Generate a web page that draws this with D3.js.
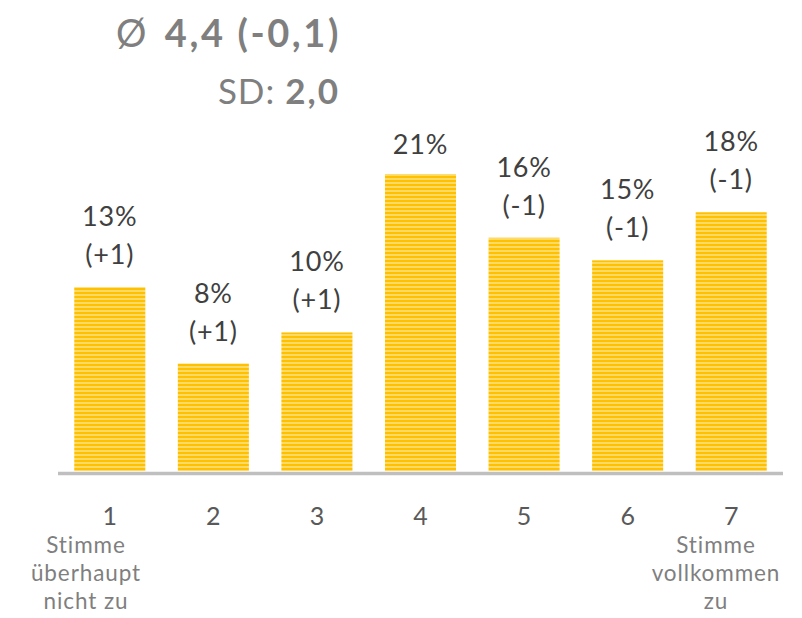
<!DOCTYPE html>
<html><head><meta charset="utf-8">
<script src="https://cdn.jsdelivr.net/npm/d3@7"></script>
<style>body{margin:0;background:#fff;}svg{display:block;font-family:Lato,"Open Sans",sans-serif;}</style>
</head><body>
<script>
const categories = ["1","2","3","4","5","6","7"];
const values = [13.0, 7.6, 9.8, 21.0, 16.5, 14.9, 18.3];
const valueLabels = ["13%","8%","10%","21%","16%","15%","18%"];
const changeLabels = ["(+1)","(+1)","(+1)","","(-1)","(-1)","(-1)"];
const leftNote = ["Stimme","überhaupt","nicht zu"];
const rightNote = ["Stimme","vollkommen","zu"];

const W=802,H=618;
const svg=d3.select("body").append("svg").attr("width",W).attr("height",H);
const defs=svg.append("defs");
const pat=defs.append("pattern").attr("id","stripes").attr("patternUnits","userSpaceOnUse").attr("width",8).attr("height",4);
pat.append("rect").attr("width",8).attr("height",4).attr("fill","#FFDA66");
pat.append("rect").attr("width",8).attr("height",2).attr("fill","#FFC000");

const x=d3.scaleBand().domain(categories).range([58,783]).paddingInner(0.314).paddingOuter(0.157);
const y=d3.scaleLinear().domain([0,25]).range([471,117.5]);

svg.append("g").selectAll("rect").data(values).join("rect")
  .attr("x",(d,i)=>x(categories[i])).attr("width",x.bandwidth())
  .attr("y",d=>y(d)).attr("height",d=>y(0)-y(d)).attr("fill","url(#stripes)");

svg.append("line").attr("x1",58).attr("x2",783).attr("y1",y(0)+2.5).attr("y2",y(0)+2.5)
  .attr("stroke","#BFBFBF").attr("stroke-width",3.5);

const lab=svg.append("g").attr("fill","#404040").attr("font-size",27).attr("text-anchor","middle").attr("letter-spacing",0.8);
values.forEach((v,i)=>{
  const cx=x(categories[i])+x.bandwidth()/2;
  const top=y(v);
  const hasChange=changeLabels[i]!=="";
  lab.append("text").attr("x",cx).attr("y",top-(hasChange?61:20)).text(valueLabels[i]);
  if(hasChange) lab.append("text").attr("x",cx).attr("y",top-23).text(changeLabels[i]);
});

const ax=d3.axisBottom(x).tickSize(0).tickPadding(0);
const axg=svg.append("g").attr("transform",`translate(0,${y(0)})`).call(ax);
axg.select(".domain").remove();
axg.selectAll("text").attr("font-size",25).attr("fill","#595959").attr("font-family","Lato,sans-serif").attr("dy",null).attr("y",54);

const notes=svg.append("g").attr("fill","#7F7F7F").attr("font-size",22.5).attr("text-anchor","middle").attr("letter-spacing",0.9);
leftNote.forEach((t,i)=>notes.append("text").attr("x",86).attr("y",553+i*28).text(t));
rightNote.forEach((t,i)=>notes.append("text").attr("x",716).attr("y",553+i*28).text(t));

svg.append("text").attr("x",116).attr("y",47).attr("fill","#7F7F7F").attr("font-size",38).text("Ø");
svg.append("text").attr("x",341).attr("y",47).attr("text-anchor","end").attr("fill","#7F7F7F").attr("font-size",38)
  .attr("font-weight","bold").attr("letter-spacing",2.6).text("4,4 (-0,1)");
const t2=svg.append("text").attr("x",340).attr("y",104).attr("text-anchor","end").attr("fill","#7F7F7F").attr("font-size",35);
t2.append("tspan").attr("letter-spacing",1).text("SD: ");
t2.append("tspan").attr("font-weight","bold").attr("letter-spacing",2).text("2,0");
</script>
</body></html>
